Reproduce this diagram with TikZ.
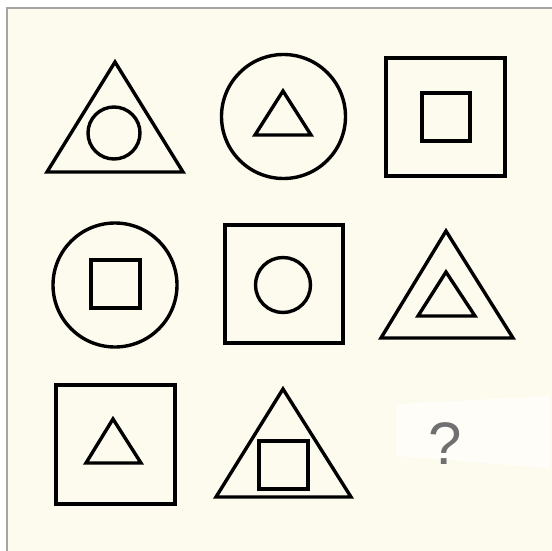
\documentclass[tikz,border=0pt]{standalone}
\usepackage{fontspec}
\setmainfont{Liberation Sans}
\definecolor{cream}{RGB}{253,251,238}
\definecolor{framegray}{RGB}{165,165,165}
\definecolor{qgray}{RGB}{112,112,112}
\begin{document}
\begin{tikzpicture}[x=1pt,y=-1pt,
  shp/.style={draw=black,line width=3.4pt,line join=miter}]
\useasboundingbox (0,0) rectangle (552,551);
\fill[white] (0,0) rectangle (552,551);
\fill[cream] (7,8) rectangle (552,551);
\draw[framegray,line width=2pt] (7,551) -- (7,8) -- (552,8);
% faint white patch behind question mark
\fill[white,opacity=0.55] (396,404) -- (550,396) -- (550,468) -- (470,462) -- (396,456) -- cycle;
% row 1
\draw[shp] (115,62) -- (183,172) -- (47,172) -- cycle;
\draw[shp] (114,133) circle (26);
\draw[shp] (283.5,116.5) circle (62);
\draw[shp] (283,91) -- (311,135) -- (255,135) -- cycle;
\draw[shp] (386,58) rectangle (505,176);
\draw[shp] (422,93) rectangle (470,141);
% row 2
\draw[shp] (115,285) circle (62);
\draw[shp] (91,260) rectangle (140,308);
\draw[shp] (225,225) rectangle (343,343);
\draw[shp] (283,285) circle (27.5);
\draw[shp] (446,231) -- (513,338) -- (381,338) -- cycle;
\draw[shp] (446,272) -- (475,316) -- (418,316) -- cycle;
% row 3
\draw[shp] (56,385) rectangle (175,504);
\draw[shp] (113,419) -- (141,463) -- (86,463) -- cycle;
\draw[shp] (283,389) -- (351,497) -- (216,497) -- cycle;
\draw[shp] (259,441) rectangle (308,489);
\node[text=qgray,font=\fontsize{60}{60}\selectfont,inner sep=0pt] (q) at (445,444) {?};
\end{tikzpicture}
\end{document}
